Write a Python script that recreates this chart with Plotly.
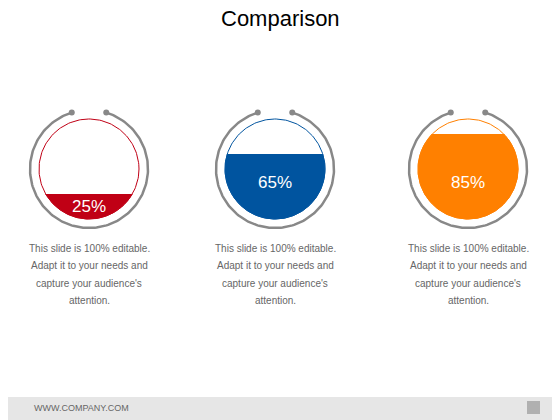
import numpy as np
import plotly.graph_objects as go

title = "Comparison"
percents = [25, 65, 85]
colors = ["#C00015", "#00549F", "#FF8000"]
centers_x = [89, 275, 468]
caption = ["This slide is 100% editable.", "Adapt it to your needs and",
           "capture your audience's", "attention."]
footer = "WWW.COMPANY.COM"

cy = 169
r_in = 50
r_out = 59
gap = np.radians(17)

fig = go.Figure()
for cx, p, col in zip(centers_x, percents, colors):
    # outer gray arc with a gap at the top
    t = np.linspace(np.pi / 2 + gap, np.pi / 2 + 2 * np.pi - gap, 200)
    fig.add_trace(go.Scatter(x=cx + r_out * np.cos(t), y=cy - r_out * np.sin(t),
                             mode="lines", line=dict(color="#888888", width=2.5),
                             hoverinfo="skip"))
    ends = [np.pi / 2 + gap, np.pi / 2 - gap]
    fig.add_trace(go.Scatter(x=[cx + r_out * np.cos(a) for a in ends],
                             y=[cy - r_out * np.sin(a) for a in ends],
                             mode="markers", marker=dict(color="#888888", size=6),
                             hoverinfo="skip"))
    # inner thin circle
    t2 = np.linspace(0, 2 * np.pi, 200)
    fig.add_trace(go.Scatter(x=cx + r_in * np.cos(t2), y=cy + r_in * np.sin(t2),
                             mode="lines", line=dict(color=col, width=1),
                             hoverinfo="skip"))
    # fill segment from bottom, height proportional to the percentage
    level = r_in - 2 * r_in * p / 100
    a = np.arcsin(np.clip(level / r_in, -1, 1))
    ts = np.linspace(a, np.pi - a, 200)
    fig.add_trace(go.Scatter(x=cx + r_in * np.cos(ts), y=cy + r_in * np.sin(ts),
                             mode="lines", fill="toself", fillcolor=col,
                             line=dict(color=col, width=1), hoverinfo="skip"))
    ty = cy + (level + r_in) / 2 if p < 50 else cy + 13
    fig.add_annotation(x=cx, y=ty, text=f"{p}%", showarrow=False,
                       font=dict(color="white", size=17, family="Arial"))
    for i, line in enumerate(caption):
        fig.add_annotation(x=cx, y=248 + i * 17.5, text=line, showarrow=False,
                           font=dict(color="#666666", size=10, family="Arial"))

fig.add_annotation(x=280, y=18, text=title, showarrow=False,
                   font=dict(color="black", size=22, family="Arial"))
fig.add_shape(type="rect", x0=0, x1=570, y0=397, y1=430,
              fillcolor="#E6E6E6", line_width=0, layer="below")
fig.add_annotation(x=32, y=408, text=footer, showarrow=False, xanchor="left",
                   font=dict(color="#666666", size=9, family="Arial"))
fig.add_shape(type="rect", x0=527, x1=540, y0=401, y1=414,
              fillcolor="#B0B0B0", line_width=0)

# page body has an 8px margin; shift the ranges so data units equal screen pixels
fig.update_layout(width=560, height=420, margin=dict(l=0, r=0, t=0, b=0),
                  showlegend=False, plot_bgcolor="white", paper_bgcolor="white",
                  xaxis=dict(range=[8, 568], visible=False),
                  yaxis=dict(range=[428, 8], visible=False))
fig.write_html("out.html")
